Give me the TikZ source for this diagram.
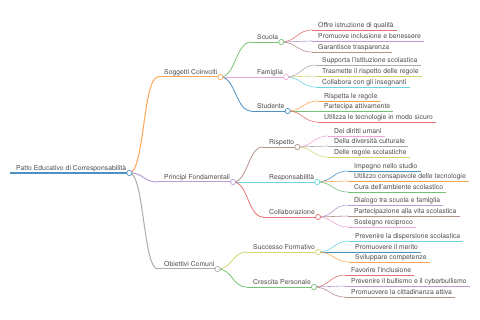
\documentclass[tikz,border=0pt]{standalone}
\usepackage{fontspec}
\setmainfont{TeX Gyre Heros}
\definecolor{k0}{HTML}{1F77B4}
\definecolor{k1}{HTML}{FF7F0E}
\definecolor{k2}{HTML}{2CA02C}
\definecolor{k3}{HTML}{D62728}
\definecolor{k4}{HTML}{9467BD}
\definecolor{k5}{HTML}{8C564B}
\definecolor{k6}{HTML}{E377C2}
\definecolor{k7}{HTML}{7F7F7F}
\definecolor{k8}{HTML}{BCBD22}
\definecolor{k9}{HTML}{17BECF}
\colorlet{c0}{k0!80!white}
\colorlet{c1}{k1!70!white}
\colorlet{c2}{k2!65!white}
\colorlet{c3}{k3!65!white}
\colorlet{c4}{k4!65!white}
\colorlet{c5}{k5!65!white}
\colorlet{c6}{k6!65!white}
\colorlet{c7}{k7!65!white}
\colorlet{c8}{k8!65!white}
\colorlet{c9}{k9!65!white}
\newcommand\mmnode[6]{%
  \node[txt] (#1) at (#3,#4-2) {#5};
  \coordinate (#1-l) at (#3-6,#4);
  \path (#1-l -| #1.east) ++(3,0) coordinate (#1-r);
  \draw[#2, line width=#6] (#1-l) -- (#1-r);
}
\newcommand\mmlink[4]{%
  \draw[#3, line width=#4] (#1-r) .. controls ([xshift=15pt]#1-r) and ([xshift=-15pt]#2-l) .. (#2-l);
}
\newcommand\mmdot[2]{%
  \draw[#2, fill=white, line width=0.7pt] (#1-r) circle[radius=2.6pt];
}
\begin{document}
\begin{tikzpicture}[x=1pt,y=-1pt,
  txt/.style={font=\fontsize{6.85}{8}\selectfont, text=black!70, inner sep=0pt, anchor=base west}]
\useasboundingbox (0,0) rectangle (480,320);
% root
\mmnode{root}{c0}{16}{173}{Patto Educativo di Corresponsabilità}{1.1pt}
% level 1
\mmnode{sog}{c1}{164}{77}{Soggetti Coinvolti}{1pt}
\mmnode{pri}{c4}{164}{182}{Principi Fondamentali}{1pt}
\mmnode{obi}{c7}{164}{269}{Obiettivi Comuni}{1pt}
\mmlink{root}{sog}{c1}{1pt}
\mmlink{root}{pri}{c4}{1pt}
\mmlink{root}{obi}{c7}{1pt}
% level 2
\mmnode{scu}{c2}{257}{42}{Scuola}{0.8pt}
\mmnode{fam}{c6}{257}{77}{Famiglia}{0.8pt}
\mmnode{stu}{c0}{257}{111}{Studente}{0.8pt}
\mmnode{ris}{c5}{269}{147}{Rispetto}{0.8pt}
\mmnode{res}{c9}{269}{182}{Responsabilità}{0.8pt}
\mmnode{col}{c3}{269}{217}{Collaborazione}{0.8pt}
\mmnode{suc}{c8}{253}{252}{Successo Formativo}{0.8pt}
\mmnode{cre}{c2}{253}{287}{Crescita Personale}{0.8pt}
\mmlink{sog}{scu}{c2}{0.8pt}
\mmlink{sog}{fam}{c6}{0.8pt}
\mmlink{sog}{stu}{c0}{0.8pt}
\mmlink{pri}{ris}{c5}{0.8pt}
\mmlink{pri}{res}{c9}{0.8pt}
\mmlink{pri}{col}{c3}{0.8pt}
\mmlink{obi}{suc}{c8}{0.8pt}
\mmlink{obi}{cre}{c2}{0.8pt}
% leaves
\mmnode{a1}{c3}{318}{30}{Offre istruzione di qualità}{0.6pt}
\mmnode{a2}{c4}{318}{41}{Promuove inclusione e benessere}{0.6pt}
\mmnode{a3}{c5}{318}{52}{Garantisce trasparenza}{0.6pt}
\mmlink{scu}{a1}{c3}{0.6pt}
\mmlink{scu}{a2}{c4}{0.6pt}
\mmlink{scu}{a3}{c5}{0.6pt}
\mmnode{b1}{c7}{322}{65}{Supporta l'istituzione scolastica}{0.6pt}
\mmnode{b2}{c8}{322}{76}{Trasmette il rispetto delle regole}{0.6pt}
\mmnode{b3}{c9}{322}{87}{Collabora con gli insegnanti}{0.6pt}
\mmlink{fam}{b1}{c7}{0.6pt}
\mmlink{fam}{b2}{c8}{0.6pt}
\mmlink{fam}{b3}{c9}{0.6pt}
\mmnode{d1}{c1}{324}{101}{Rispetta le regole}{0.6pt}
\mmnode{d2}{c2}{324}{111}{Partecipa attivamente}{0.6pt}
\mmnode{d3}{c3}{324}{122}{Utilizza le tecnologie in modo sicuro}{0.6pt}
\mmlink{stu}{d1}{c1}{0.6pt}
\mmlink{stu}{d2}{c2}{0.6pt}
\mmlink{stu}{d3}{c3}{0.6pt}
\mmnode{e1}{c6}{334}{136}{Dei diritti umani}{0.6pt}
\mmnode{e2}{c7}{334}{146}{Della diversità culturale}{0.6pt}
\mmnode{e3}{c8}{334}{157}{Delle regole scolastiche}{0.6pt}
\mmlink{ris}{e1}{c6}{0.6pt}
\mmlink{ris}{e2}{c7}{0.6pt}
\mmlink{ris}{e3}{c8}{0.6pt}
\mmnode{f1}{c0}{354}{171}{Impegno nello studio}{0.6pt}
\mmnode{f2}{c1}{354}{181}{Utilizzo consapevole delle tecnologie}{0.6pt}
\mmnode{f3}{c2}{354}{192}{Cura dell'ambiente scolastico}{0.6pt}
\mmlink{res}{f1}{c0}{0.6pt}
\mmlink{res}{f2}{c1}{0.6pt}
\mmlink{res}{f3}{c2}{0.6pt}
\mmnode{g1}{c4}{354}{205}{Dialogo tra scuola e famiglia}{0.6pt}
\mmnode{g2}{c5}{354}{216}{Partecipazione alla vita scolastica}{0.6pt}
\mmnode{g3}{c6}{354}{227}{Sostegno reciproco}{0.6pt}
\mmlink{col}{g1}{c4}{0.6pt}
\mmlink{col}{g2}{c5}{0.6pt}
\mmlink{col}{g3}{c6}{0.6pt}
\mmnode{h1}{c9}{355}{241}{Prevenire la dispersione scolastica}{0.6pt}
\mmnode{h2}{c0}{355}{252}{Promuovere il merito}{0.6pt}
\mmnode{h3}{c1}{355}{262}{Sviluppare competenze}{0.6pt}
\mmlink{suc}{h1}{c9}{0.6pt}
\mmlink{suc}{h2}{c0}{0.6pt}
\mmlink{suc}{h3}{c1}{0.6pt}
\mmnode{i1}{c3}{351}{275}{Favorire l'inclusione}{0.6pt}
\mmnode{i2}{c4}{351}{286}{Prevenire il bullismo e il cyberbullismo}{0.6pt}
\mmnode{i3}{c5}{351}{297}{Promuovere la cittadinanza attiva}{0.6pt}
\mmlink{cre}{i1}{c3}{0.6pt}
\mmlink{cre}{i2}{c4}{0.6pt}
\mmlink{cre}{i3}{c5}{0.6pt}
% circles
\mmdot{root}{c0}
\mmdot{sog}{c1}
\mmdot{pri}{c4}
\mmdot{obi}{c7}
\mmdot{scu}{c2}
\mmdot{fam}{c6}
\mmdot{stu}{c0}
\mmdot{ris}{c5}
\mmdot{res}{c9}
\mmdot{col}{c3}
\mmdot{suc}{c8}
\mmdot{cre}{c2}
\end{tikzpicture}
\end{document}
